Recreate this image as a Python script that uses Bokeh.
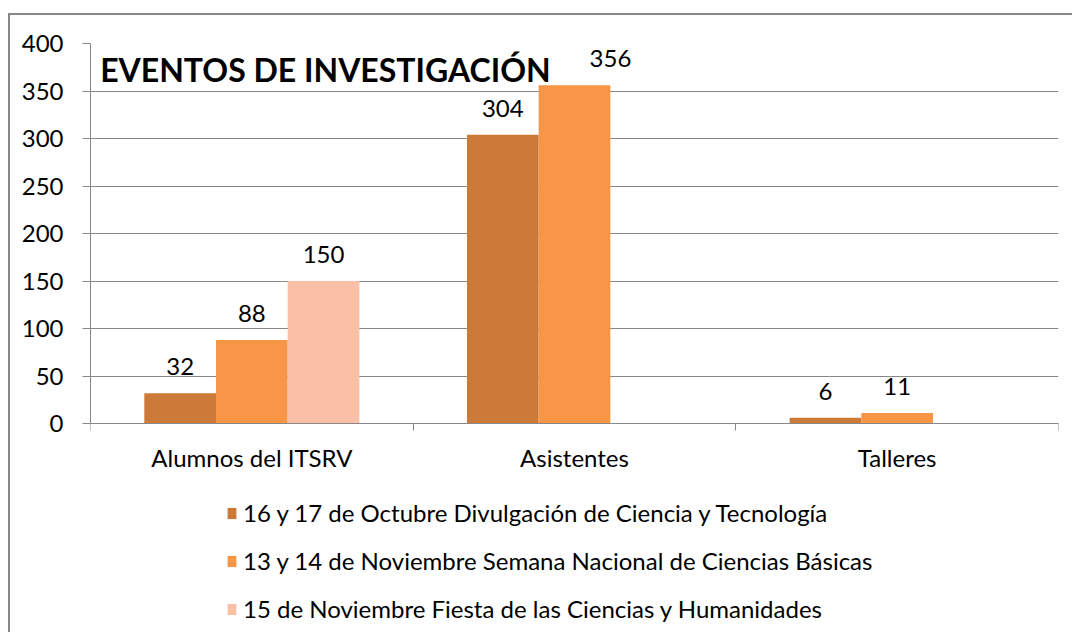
from bokeh.plotting import figure
from bokeh.models import ColumnDataSource, FixedTicker, Legend, LegendItem, Range1d, Label
from bokeh.transform import dodge
from bokeh.core.properties import value
from bokeh.embed import file_html
from bokeh.resources import INLINE

categories = ["Alumnos del ITSRV", "Asistentes", "Talleres"]
series_names = [
    "16 y 17 de Octubre Divulgación de Ciencia y Tecnología",
    "13 y 14 de Noviembre Semana Nacional de Ciencias Básicas",
    "15 de Noviembre Fiesta de las Ciencias y Humanidades",
]
octubre = [32, 304, 6]
noviembre_semana = [88, 356, 11]
noviembre_fiesta = [150, None, None]
series_values = [octubre, noviembre_semana, noviembre_fiesta]
colors = ["#CB7A38", "#F79646", "#F9C0A6"]
y_ticks = [0, 50, 100, 150, 200, 250, 300, 350, 400]
title_text = "EVENTOS DE INVESTIGACIÓN"

# style: data label nudged right (px) to avoid the title, keyed by (series, category)
LABEL_NUDGE = {(1, 1): 36}

FONT = "Lato"
FS = "24px"
GRAY = "#888888"

p = figure(width=1064, height=619, output_backend="svg", toolbar_location=None,
           x_range=Range1d(0, 3), y_range=Range1d(-222, 400),
           min_border_left=80, min_border_right=16, min_border_top=28, min_border_bottom=0)
p.styles = {"border-top": "2px solid #878787", "border-left": "2px solid #878787",
            "margin-top": "13px", "margin-left": "8px"}
p.outline_line_color = None
p.background_fill_color = "white"
p.border_fill_color = "white"

bar_w = 0.2222
offsets = [-bar_w, 0.0, bar_w]
items = []
for s, (name, vals, col, off) in enumerate(zip(series_names, series_values, colors, offsets)):
    idx = [i for i, v in enumerate(vals) if v is not None]
    xs = [i + 0.5 for i in idx]
    ys = [vals[i] for i in idx]
    xo = [LABEL_NUDGE.get((s, i), 0) for i in idx]
    src = ColumnDataSource(dict(x=xs, top=ys, lab=[str(v) for v in ys], xo=xo))
    r = p.vbar(x=dodge("x", off), top="top", width=bar_w, source=src,
               fill_color=col, line_color=None)
    p.text(x=dodge("x", off), y="top", text="lab", source=src,
           text_align="center", text_baseline="bottom", y_offset=-18, x_offset="xo",
           text_font=value(FONT), text_font_size=FS, text_color="black")
    items.append(LegendItem(label=name, renderers=[r]))

p.add_layout(Label(x=0.03, y=373, text=title_text, text_font=FONT,
                   text_font_size="32px", text_font_style="bold",
                   text_color="black", text_baseline="alphabetic"))

# axes
p.xaxis.fixed_location = 0
p.xaxis.ticker = FixedTicker(ticks=[i + 0.5 for i in range(len(categories))],
                             minor_ticks=list(range(len(categories) + 1)))
p.xaxis.major_label_overrides = {i + 0.5: c for i, c in enumerate(categories)}
p.xaxis.major_tick_line_color = None
p.xaxis.major_tick_out = 0
p.xaxis.major_tick_in = 0
p.xaxis.minor_tick_line_color = GRAY
p.xaxis.minor_tick_out = 7
p.xaxis.minor_tick_in = 0
p.xaxis.axis_line_color = GRAY
p.xaxis.major_label_standoff = 12
p.xaxis.major_label_text_font = FONT
p.xaxis.major_label_text_font_size = FS
p.xaxis.major_label_text_color = "black"

p.yaxis.ticker = FixedTicker(ticks=y_ticks, minor_ticks=[])
p.yaxis.bounds = (0, 400)
p.yaxis.axis_line_color = GRAY
p.yaxis.major_tick_line_color = GRAY
p.yaxis.major_tick_out = 8
p.yaxis.major_tick_in = 0
p.yaxis.major_label_standoff = 19
p.yaxis.major_label_text_font = FONT
p.yaxis.major_label_text_font_size = FS
p.yaxis.major_label_text_color = "black"

p.xgrid.grid_line_color = None
p.ygrid.grid_line_color = GRAY
p.ygrid.grid_line_width = 1

legend = Legend(items=items, location=(136, 11), orientation="vertical",
                padding=0, margin=0, spacing=19, label_height=28,
                glyph_width=11, glyph_height=14, label_standoff=6,
                label_text_font=FONT, label_text_font_size=FS,
                label_text_color="black", border_line_color=None,
                background_fill_alpha=0)
p.add_layout(legend, "center")

open("out.html", "w").write(file_html(p, INLINE))
